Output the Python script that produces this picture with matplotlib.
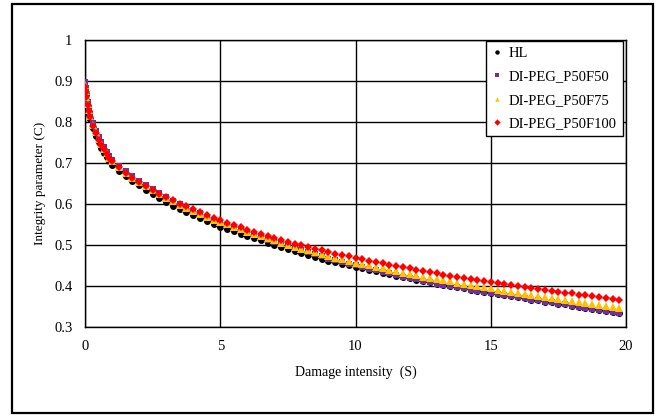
import matplotlib.pyplot as plt
from matplotlib.patches import Rectangle
from matplotlib.lines import Line2D

plt.rcParams['font.family'] = ['Liberation Serif', 'DejaVu Serif']

# damage intensity S (dense at the start where C falls fast)
S = [0, 0.02, 0.05, 0.1, 0.15, 0.2, 0.3, 0.4, 0.5, 0.6, 0.7, 0.8, 0.9, 1.0,
     1.25, 1.5, 1.75, 2.0, 2.25, 2.5, 2.75, 3.0, 3.25, 3.5, 3.75, 4.0,
     4.25, 4.5, 4.75, 5.0, 5.25, 5.5, 5.75, 6.0, 6.25, 6.5, 6.75, 7.0,
     7.25, 7.5, 7.75, 8.0, 8.25, 8.5, 8.75, 9.0, 9.25, 9.5, 9.75, 10.0,
     10.25, 10.5, 10.75, 11.0, 11.25, 11.5, 11.75, 12.0, 12.25, 12.5, 12.75, 13.0,
     13.25, 13.5, 13.75, 14.0, 14.25, 14.5, 14.75, 15.0, 15.25, 15.5, 15.75, 16.0,
     16.25, 16.5, 16.75, 17.0, 17.25, 17.5, 17.75, 18.0, 18.25, 18.5, 18.75, 19.0,
     19.25, 19.5, 19.75]

# integrity parameter C for each mix
C_HL = [0.882, 0.868, 0.853, 0.835, 0.820, 0.807, 0.785, 0.766, 0.750, 0.737, 0.725, 0.714, 0.704, 0.695,
        0.681, 0.668, 0.656, 0.645, 0.634, 0.624, 0.614, 0.605, 0.596, 0.588, 0.580, 0.572,
        0.565, 0.558, 0.551, 0.545, 0.539, 0.533, 0.527, 0.522, 0.516, 0.511, 0.505, 0.500,
        0.495, 0.490, 0.485, 0.480, 0.476, 0.471, 0.467, 0.462, 0.458, 0.454, 0.450, 0.446,
        0.443, 0.439, 0.436, 0.432, 0.429, 0.425, 0.422, 0.419, 0.415, 0.412, 0.409, 0.406,
        0.403, 0.400, 0.397, 0.394, 0.391, 0.388, 0.386, 0.383, 0.380, 0.378, 0.375, 0.372,
        0.370, 0.367, 0.365, 0.362, 0.360, 0.357, 0.355, 0.352, 0.350, 0.347, 0.345, 0.342,
        0.340, 0.337, 0.335]

C_F50 = [0.898, 0.882, 0.866, 0.848, 0.833, 0.820, 0.798, 0.779, 0.763, 0.750, 0.738, 0.727, 0.717, 0.708,
         0.693, 0.680, 0.668, 0.657, 0.646, 0.636, 0.626, 0.617, 0.608, 0.600, 0.592, 0.584,
         0.577, 0.569, 0.562, 0.556, 0.549, 0.543, 0.537, 0.531, 0.525, 0.519, 0.513, 0.508,
         0.502, 0.497, 0.492, 0.487, 0.482, 0.477, 0.472, 0.467, 0.463, 0.458, 0.454, 0.450,
         0.446, 0.442, 0.438, 0.434, 0.431, 0.427, 0.423, 0.420, 0.416, 0.413, 0.410, 0.406,
         0.403, 0.400, 0.397, 0.394, 0.391, 0.388, 0.386, 0.383, 0.380, 0.378, 0.375, 0.372,
         0.370, 0.367, 0.365, 0.362, 0.360, 0.357, 0.355, 0.352, 0.350, 0.347, 0.345, 0.342,
         0.340, 0.337, 0.335]

C_F75 = [0.890, 0.876, 0.861, 0.843, 0.828, 0.815, 0.793, 0.775, 0.759, 0.746, 0.734, 0.723, 0.713, 0.704,
         0.689, 0.676, 0.664, 0.653, 0.643, 0.633, 0.624, 0.615, 0.606, 0.598, 0.590, 0.583,
         0.576, 0.569, 0.562, 0.556, 0.550, 0.544, 0.538, 0.532, 0.527, 0.521, 0.516, 0.511,
         0.506, 0.501, 0.496, 0.491, 0.487, 0.482, 0.478, 0.473, 0.469, 0.465, 0.461, 0.457,
         0.453, 0.450, 0.446, 0.443, 0.439, 0.436, 0.432, 0.429, 0.426, 0.423, 0.420, 0.417,
         0.414, 0.411, 0.408, 0.405, 0.402, 0.399, 0.397, 0.394, 0.391, 0.389, 0.386, 0.383,
         0.381, 0.378, 0.376, 0.373, 0.371, 0.368, 0.366, 0.364, 0.361, 0.359, 0.357, 0.354,
         0.352, 0.350, 0.347]

C_F100 = [0.886, 0.874, 0.860, 0.842, 0.826, 0.812, 0.790, 0.772, 0.757, 0.744, 0.733, 0.722, 0.712, 0.704,
          0.689, 0.676, 0.664, 0.653, 0.643, 0.634, 0.625, 0.617, 0.609, 0.601, 0.594, 0.587,
          0.580, 0.573, 0.566, 0.560, 0.554, 0.548, 0.543, 0.537, 0.532, 0.527, 0.522, 0.517,
          0.512, 0.508, 0.503, 0.499, 0.495, 0.491, 0.487, 0.483, 0.479, 0.475, 0.472, 0.468,
          0.465, 0.461, 0.458, 0.455, 0.452, 0.449, 0.446, 0.443, 0.440, 0.437, 0.434, 0.431,
          0.428, 0.425, 0.423, 0.420, 0.417, 0.415, 0.412, 0.410, 0.407, 0.405, 0.402, 0.400,
          0.398, 0.395, 0.393, 0.391, 0.388, 0.386, 0.384, 0.382, 0.379, 0.377, 0.375, 0.373,
          0.371, 0.369, 0.367]

labels = ['HL', 'DI-PEG_P50F50', 'DI-PEG_P50F75', 'DI-PEG_P50F100']
x_ticks = [0, 5, 10, 15, 20]
y_ticks = [0.3, 0.4, 0.5, 0.6, 0.7, 0.8, 0.9, 1.0]
y_tick_labels = ['0.3', '0.4', '0.5', '0.6', '0.7', '0.8', '0.9', '1']

fig = plt.figure(figsize=(6.59, 4.15), dpi=100)
ax = fig.add_axes([0.129, 0.212, 0.821, 0.692])

series = [C_HL, C_F50, C_F75, C_F100]
colors = ['black', '#7030A0', '#FFC000', '#FF0000']
markers = ['o', 's', '^', 'D']
sizes = [5.0, 4.8, 5.2, 4.2]
for ys, col, mk, ms, lab in zip(series, colors, markers, sizes, labels):
    ax.plot(S, ys, linestyle='none', marker=mk, color=col, markersize=ms,
            markeredgewidth=0, label=lab, zorder=3)

ax.set_xlim(0, 20)
ax.set_ylim(0.3, 1.0)
ax.set_xticks(x_ticks)
ax.set_yticks(y_ticks)
ax.set_yticklabels(y_tick_labels)
ax.grid(True, color='black', linewidth=1.0)
ax.set_axisbelow(True)
ax.tick_params(length=0, labelsize=10.5, pad=9)
for sp in ax.spines.values():
    sp.set_color('black')
    sp.set_linewidth(1.0)

ax.set_xlabel('Damage intensity  (S)', fontsize=10, labelpad=9)
ax.set_ylabel('Integrity parameter (C)', fontsize=9.5, labelpad=6)

handles = [Line2D([], [], linestyle='none', marker=mk, color=col, markersize=3.2,
                  markeredgewidth=0) for col, mk in zip(colors, markers)]
leg = ax.legend(handles, labels, loc='upper right', bbox_to_anchor=(0.995, 0.997),
                fontsize=10.5, frameon=True, fancybox=False, borderaxespad=0,
                handlelength=0.6, handletextpad=0.5, labelspacing=0.68,
                borderpad=0.45)
leg.get_frame().set_edgecolor('black')
leg.get_frame().set_linewidth(1.0)
leg.get_frame().set_alpha(1)

# chart border
fig.patches.append(Rectangle((0.0182, 0.005), 0.9728, 0.985, transform=fig.transFigure,
                             fill=False, edgecolor='black', linewidth=1.6))

fig.savefig('out.png', dpi=100)
